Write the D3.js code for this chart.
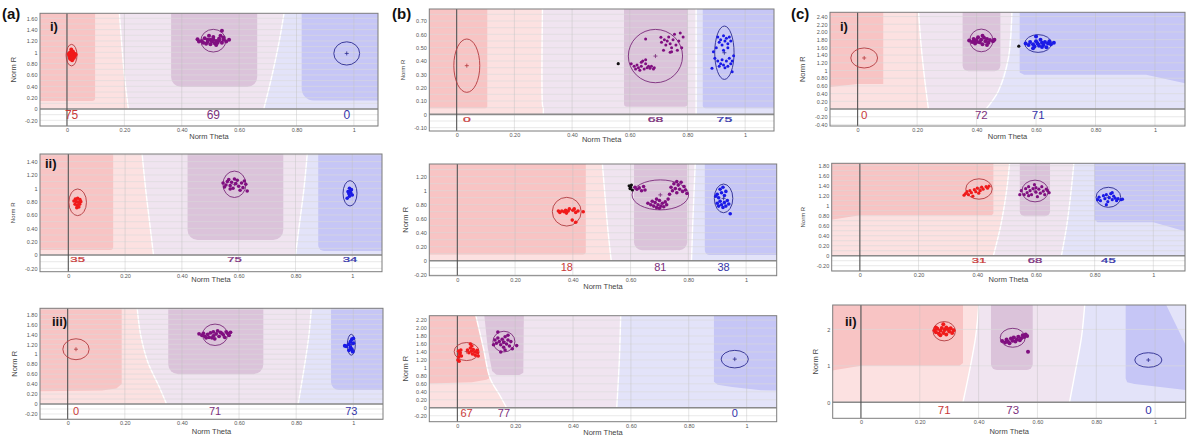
<!DOCTYPE html>
<html>
<head>
<meta charset="utf-8">
<script src="https://cdn.jsdelivr.net/npm/d3@7"></script>
<style>
  body { margin: 0; background: #fff; }
  svg text { font-family: "Liberation Sans", Arial, sans-serif; }
</style>
</head>
<body>
<svg id="fig" width="1200" height="443"></svg>
<script>
// ---------- shared axis values ----------
const xTicks = [0, 0.2, 0.4, 0.6, 0.8, 1];
const xTickLabels = ["0", "0.20", "0.40", "0.60", "0.80", "1"];
const classes = ["r", "p", "b"];

const yTicksA1 = [-0.2, 0, 0.2, 0.4, 0.6, 0.8, 1, 1.2, 1.4, 1.6];
const yTicksA2 = [-0.2, 0, 0.2, 0.4, 0.6, 0.8, 1, 1.2, 1.4];
const yTicksA3 = [-0.2, 0, 0.2, 0.4, 0.6, 0.8, 1, 1.2, 1.4, 1.6, 1.8];
const yTicksB1 = [-0.1, 0, 0.1, 0.2, 0.3, 0.4, 0.5, 0.6, 0.7];
const yTicksB2 = [-0.2, 0, 0.2, 0.4, 0.6, 0.8, 1, 1.2];
const yTicksB3 = [-0.2, 0, 0.2, 0.4, 0.6, 0.8, 1, 1.2, 1.4, 1.6, 1.8, 2, 2.2];
const yTicksC1 = [-0.4, -0.2, 0, 0.2, 0.4, 0.6, 0.8, 1, 1.2, 1.4, 1.6, 1.8, 2, 2.2, 2.4];
const yTicksC2 = [-0.2, 0, 0.2, 0.4, 0.6, 0.8, 1, 1.2, 1.4, 1.6, 1.8];
const yTicksC3 = [0, 1, 2];

// ---------- counts (red, purple, blue) ----------
const cntA1 = [75, 69, 0];
const cntA2 = [35, 75, 34];
const cntA3 = [0, 71, 73];
const cntB1 = [0, 68, 75];
const cntB2 = [18, 81, 38];
const cntB3 = [67, 77, 0];
const cntC1 = [0, 72, 71];
const cntC2 = [31, 68, 45];
const cntC3 = [71, 73, 0];

// ---------- cluster ellipses [cx, cy, rx, ry] ----------
const ellA1 = [[0.016, 0.95, 0.019, 0.19], [0.51, 1.205, 0.0435, 0.20], [0.975, 0.98, 0.045, 0.205]];
const ellA2 = [[0.033, 0.79, 0.031, 0.20], [0.585, 1.06, 0.0405, 0.198], [0.992, 0.925, 0.0246, 0.19]];
const ellA3 = [[0.029, 1.10, 0.046, 0.21], [0.516, 1.39, 0.044, 0.215], [0.993, 1.19, 0.014, 0.21]];
const ellB1 = [[0.035, 0.365, 0.045, 0.20], [0.689, 0.437, 0.094, 0.20], [0.928, 0.462, 0.0335, 0.20]];
const ellB2 = [[0.379, 0.70, 0.050, 0.205], [0.703, 0.94, 0.098, 0.214], [0.922, 0.89, 0.032, 0.205]];
const ellB3 = [[0.032, 1.41, 0.043, 0.226], [0.161, 1.66, 0.038, 0.26], [0.959, 1.22, 0.047, 0.22]];
const ellC1 = [[0.022, 1.325, 0.045, 0.26], [0.416, 1.78, 0.039, 0.294], [0.607, 1.70, 0.045, 0.23]];
const ellC2 = [[0.406, 1.334, 0.045, 0.204], [0.597, 1.294, 0.045, 0.217], [0.847, 1.168, 0.042, 0.20]];
const ellC3 = [[0.283, 1.95, 0.038, 0.265], [0.516, 1.77, 0.0425, 0.26], [0.977, 1.16, 0.046, 0.20]];

// ---------- cluster points [theta, r] ----------
const ptsA1r = [[0.010,0.99],[0.016,1.02],[0.022,0.98],[0.008,0.94],[0.014,0.93],[0.020,0.95],[0.026,0.93],[0.012,0.88],[0.018,0.86],[0.024,0.90],[0.006,0.97],[0.028,0.97],[0.015,1.05],[0.010,0.90],[0.021,1.01],[0.030,0.96],[0.016,0.91]];
const ptsA1p = [[0.455,1.23],[0.47,1.20],[0.48,1.25],[0.49,1.18],[0.50,1.22],[0.50,1.14],[0.51,1.27],[0.52,1.20],[0.52,1.13],[0.53,1.24],[0.54,1.17],[0.545,1.22],[0.555,1.19],[0.565,1.22],[0.485,1.15],[0.495,1.29],[0.515,1.16],[0.535,1.29],[0.475,1.17],[0.505,1.19],[0.525,1.17],[0.545,1.26],[0.54,1.38],[0.46,1.19],[0.49,1.22],[0.51,1.23],[0.53,1.21]];
const ptsA1b = [];

const ptsA2r = [[0.025,0.84],[0.033,0.85],[0.041,0.83],[0.028,0.80],[0.036,0.79],[0.044,0.80],[0.024,0.76],[0.032,0.74],[0.040,0.76],[0.030,0.71],[0.037,0.72],[0.020,0.81]];
const ptsA2p = [[0.545,1.08],[0.555,1.05],[0.56,1.10],[0.57,1.04],[0.575,1.09],[0.58,1.00],[0.59,1.07],[0.595,1.12],[0.60,1.03],[0.61,1.08],[0.615,1.01],[0.62,1.11],[0.625,1.06],[0.565,1.13],[0.585,1.14],[0.55,1.02],[0.605,0.97],[0.63,0.96],[0.57,0.99]];
const ptsA2b = [[0.99,1.0],[0.997,0.98],[0.985,0.95],[0.995,0.93],[1.0,0.90],[0.99,0.88],[0.982,0.85],[0.993,0.96],[0.988,0.92]];

const ptsA3r = [];
const ptsA3p = [[0.46,1.41],[0.47,1.38],[0.48,1.36],[0.49,1.40],[0.495,1.34],[0.50,1.43],[0.51,1.37],[0.515,1.31],[0.52,1.41],[0.53,1.36],[0.535,1.44],[0.545,1.39],[0.55,1.34],[0.56,1.42],[0.565,1.38],[0.57,1.44],[0.505,1.33],[0.485,1.33],[0.525,1.47],[0.54,1.42],[0.555,1.45],[0.475,1.42],[0.51,1.45]];
const ptsA3b = [[0.97,1.17],[0.975,1.16],[0.985,1.20],[0.99,1.25],[0.995,1.30],[0.995,1.10],[1.0,1.22],[0.99,1.14],[0.985,1.08],[1.0,1.32],[0.998,1.05]];

const ptsB1r = [];
const ptsB1p = [[0.605,0.38],[0.615,0.36],[0.62,0.34],[0.625,0.37],[0.63,0.35],[0.635,0.33],[0.64,0.36],[0.645,0.40],[0.65,0.34],[0.655,0.38],[0.66,0.35],[0.665,0.36],[0.67,0.345],[0.64,0.39],[0.655,0.41],[0.675,0.36],[0.685,0.35],
  [0.71,0.54],[0.72,0.56],[0.725,0.52],[0.73,0.55],[0.735,0.58],[0.74,0.53],[0.745,0.50],[0.75,0.56],[0.755,0.60],[0.76,0.52],[0.765,0.48],[0.77,0.55],[0.775,0.61],[0.78,0.50],[0.785,0.58],[0.745,0.47],
  [0.655,0.565],[0.708,0.578],[0.717,0.48],[0.682,0.34],[0.74,0.465]];
const ptsB1b = [[0.905,0.58],[0.915,0.56],[0.925,0.59],[0.93,0.55],[0.935,0.57],[0.94,0.53],[0.945,0.58],[0.92,0.52],[0.91,0.54],[0.95,0.55],[0.94,0.50],[0.925,0.48],[0.90,0.50],[0.89,0.47],
  [0.895,0.42],[0.905,0.40],[0.915,0.38],[0.92,0.41],[0.925,0.37],[0.935,0.40],[0.94,0.36],[0.945,0.42],[0.95,0.38],[0.955,0.40],[0.93,0.35],[0.91,0.36],[0.955,0.32],[0.885,0.345],[0.96,0.44]];
const blackB1 = [[0.56, 0.38]];

const ptsB2r = [[0.35,0.71],[0.355,0.69],[0.362,0.71],[0.37,0.70],[0.375,0.72],[0.378,0.68],[0.384,0.71],[0.40,0.72],[0.405,0.74],[0.41,0.69],[0.418,0.71],[0.436,0.70],[0.398,0.58],[0.41,0.55],[0.388,0.74]];
const ptsB2p = [[0.66,0.82],[0.67,0.80],[0.675,0.85],[0.68,0.78],[0.685,0.83],[0.69,0.76],[0.695,0.80],[0.70,0.86],[0.705,0.78],[0.71,0.82],[0.715,0.77],[0.72,0.84],[0.725,0.80],[0.73,0.88],[0.69,0.88],[0.70,0.75],
  [0.74,1.05],[0.745,1.00],[0.75,1.10],[0.755,1.03],[0.76,0.97],[0.765,1.08],[0.77,1.02],[0.775,1.12],[0.78,0.99],[0.785,1.06],[0.79,1.01],[0.76,1.13],[0.735,0.95],[0.795,0.96],
  [0.615,1.05],[0.622,1.02],[0.63,1.04],[0.638,1.00],[0.645,1.06],[0.65,1.01]];
const ptsB2b = [[0.895,0.92],[0.90,0.95],[0.905,0.90],[0.91,1.02],[0.915,0.97],[0.92,1.05],[0.925,0.93],[0.93,0.99],[0.91,0.85],[0.915,0.80],[0.92,0.76],[0.925,0.83],[0.93,0.78],[0.935,0.86],[0.94,0.81],[0.905,0.78],[0.945,0.67],[0.90,0.82]];
const blackB2 = [[0.595,1.07],[0.60,1.05],[0.598,1.03],[0.603,1.08],[0.606,1.01]];

const ptsB3r = [[0.002,1.20],[0.005,1.28],[0.008,1.35],[0.004,1.42],[0.010,1.38],[0.012,1.45],[0.006,1.17],[0.014,1.30],[0.035,1.45],[0.040,1.38],[0.045,1.50],[0.048,1.42],[0.052,1.35],[0.055,1.46],[0.060,1.40],[0.062,1.32],[0.068,1.44],[0.070,1.38],[0.045,1.60],[0.05,1.55],[0.072,1.30]];
const ptsB3p = [[0.13,1.70],[0.135,1.62],[0.14,1.75],[0.145,1.66],[0.15,1.58],[0.155,1.72],[0.16,1.64],[0.165,1.78],[0.17,1.60],[0.175,1.70],[0.18,1.55],[0.185,1.66],[0.19,1.48],[0.205,1.56],[0.14,1.90],[0.15,1.40],[0.165,1.45],[0.125,1.58],[0.16,1.52],[0.175,1.82]];
const ptsB3b = [];

const ptsC1r = [];
const ptsC1p = [[0.375,1.78],[0.385,1.74],[0.39,1.82],[0.395,1.70],[0.40,1.79],[0.405,1.86],[0.41,1.73],[0.415,1.80],[0.42,1.68],[0.425,1.85],[0.43,1.76],[0.435,1.82],[0.44,1.72],[0.445,1.79],[0.455,1.76],[0.46,1.80],[0.40,1.74],[0.42,1.90],[0.435,1.66],[0.39,1.77]];
const ptsC1b = [[0.565,1.70],[0.575,1.66],[0.58,1.74],[0.59,1.68],[0.595,1.62],[0.60,1.76],[0.605,1.70],[0.61,1.64],[0.615,1.80],[0.62,1.72],[0.625,1.66],[0.63,1.74],[0.635,1.60],[0.64,1.70],[0.65,1.68],[0.66,1.72],[0.60,1.88],[0.59,1.58],[0.62,1.61],[0.645,1.76]];
const blackC1 = [[0.542, 1.63]];

const ptsC2r = [[0.355,1.21],[0.36,1.24],[0.365,1.28],[0.37,1.22],[0.375,1.30],[0.38,1.26],[0.39,1.32],[0.395,1.28],[0.40,1.35],[0.41,1.30],[0.415,1.37],[0.42,1.33],[0.43,1.38],[0.435,1.35],[0.44,1.39],[0.385,1.19],[0.405,1.25]];
const ptsC2p = [[0.55,1.30],[0.56,1.22],[0.565,1.34],[0.57,1.26],[0.575,1.38],[0.58,1.30],[0.585,1.22],[0.59,1.34],[0.595,1.42],[0.60,1.27],[0.605,1.18],[0.61,1.33],[0.615,1.25],[0.62,1.38],[0.625,1.29],[0.63,1.22],[0.635,1.33],[0.64,1.30],[0.645,1.26],[0.575,1.20],[0.60,1.36],[0.545,1.22]];
const ptsC2b = [[0.81,1.12],[0.815,1.17],[0.82,1.10],[0.83,1.20],[0.835,1.14],[0.84,1.22],[0.845,1.08],[0.85,1.16],[0.855,1.24],[0.86,1.12],[0.865,1.19],[0.87,1.15],[0.875,1.10],[0.88,1.14],[0.89,1.12],[0.895,1.13],[0.84,1.02],[0.86,1.26]];

const ptsC3r = [[0.25,1.98],[0.255,1.92],[0.26,2.02],[0.265,1.88],[0.27,1.97],[0.275,2.04],[0.28,1.90],[0.285,1.99],[0.29,1.86],[0.295,2.01],[0.30,1.94],[0.305,2.03],[0.31,1.90],[0.315,1.98],[0.27,1.84],[0.29,2.05],[0.28,2.14],[0.255,2.05]];
const ptsC3p = [[0.48,1.68],[0.49,1.64],[0.495,1.72],[0.50,1.66],[0.51,1.75],[0.515,1.69],[0.52,1.78],[0.53,1.72],[0.535,1.80],[0.545,1.76],[0.55,1.84],[0.555,1.79],[0.56,1.86],[0.505,1.62],[0.525,1.67],[0.54,1.70],[0.565,1.82],[0.568,1.39]];
const ptsC3b = [];

// ---------- decision-region boundaries (top to bottom) ----------
const b1A1 = [[0.181,1.8],[0.19,1.2],[0.20,0.6],[0.214,0]];
const b2A1 = [[0.76,1.8],[0.74,1.2],[0.715,0.6],[0.686,0]];
const b1A2 = [[0.258,1.6],[0.272,1.0],[0.286,0.5],[0.30,0]];
const b2A2 = [[0.843,1.6],[0.83,1.0],[0.815,0.5],[0.80,0]];
const b1A3 = [[0.242,2.0],[0.255,1.4],[0.28,0.85],[0.32,0.35],[0.346,0]];
const b2A3 = [[0.854,2.0],[0.845,1.4],[0.83,0.8],[0.807,0]];
const b1B1 = [[0.298,0.9],[0.298,0.06],[0.30,0.05],[0.30,0]];
const b2B1 = [[0.83,0.9],[0.83,0]];
const b1B2 = [[0.50,1.5],[0.51,1.0],[0.52,0.5],[0.533,0]];
const b2B2 = [[0.825,1.5],[0.82,1.0],[0.815,0.5],[0.811,0]];
const b1B3 = [[0.061,2.4],[0.09,1.5],[0.113,0.74],[0.146,0.32],[0.17,0]];
const b2B3 = [[0.565,2.4],[0.56,1.2],[0.551,0]];
const b1C1 = [[0.204,2.6],[0.214,1.6],[0.225,0.8],[0.238,0]];
const b2C1 = [[0.519,2.6],[0.507,1.32],[0.473,0.46],[0.432,0]];
const b1C2 = [[0.511,1.9],[0.50,1.3],[0.48,0.6],[0.455,0]];
const b2C2 = [[0.73,1.9],[0.72,1.3],[0.705,0.6],[0.687,0]];
const b1C3 = [[0.402,2.8],[0.39,1.8],[0.37,0.9],[0.347,0]];
const b2C3 = [[0.762,2.8],[0.75,1.8],[0.73,0.9],[0.709,0]];

// ---------- darker class cores ----------
const darkA1 = [{c: "r", rect: [-0.3, 0.098, 0.14], rx: 3}, {c: "p", rect: [0.363, 0.663, 0.39], rx: 10}, {c: "b", rect: [0.818, 1.3, 0.15], rx: 12}];
const darkA2 = [{c: "r", rect: [-0.3, 0.158, 0.075], rx: 3}, {c: "p", rect: [0.42, 0.757, 0.225], rx: 10}, {c: "b", rect: [0.88, 1.3, 0.06], rx: 6}];
const darkA3 = [{c: "r", poly: [[-0.3,0.24],[0.12,0.27],[0.17,0.31],[0.189,0.4],[0.189,2.5],[-0.3,2.5]]}, {c: "p", rect: [0.352, 0.685, 0.60], rx: 10}, {c: "b", rect: [0.922, 1.3, 0.28], rx: 8}];
const darkB1 = [{c: "r", rect: [-0.3, 0.106, 0.045], rx: 2}, {c: "p", rect: [0.58, 0.80, 0.057], rx: 3}, {c: "b", rect: [0.853, 1.3, 0.045], rx: 3}];
const darkB2 = [{c: "r", rect: [-0.3, 0.445, 0.09], rx: 3}, {c: "p", rect: [0.612, 0.796, 0.15], rx: 8}, {c: "b", rect: [0.857, 1.3, 0.08], rx: 5}];
const darkB3 = [{c: "r", poly: [[-0.3,0.57],[0.05,0.64],[0.10,0.70],[0.112,0.74],[0.09,1.5],[0.061,2.4],[-0.3,2.4]]},
  {c: "p", poly: [[0.092,2.4],[0.105,1.5],[0.12,0.92],[0.135,0.83],[0.15,0.82],[0.215,0.82],[0.228,0.88],[0.23,2.4]]},
  {c: "b", poly: [[0.887,2.4],[0.887,0.65],[0.9,0.58],[0.95,0.52],[1.05,0.44],[1.3,0.4],[1.3,2.4]]}];
const darkC1 = [{c: "r", poly: [[-0.3,0.4],[0.0,0.65],[0.086,0.65],[0.086,2.6],[-0.3,2.6]]}, {c: "p", rect: [0.353, 0.48, 0.98], rx: 6},
  {c: "b", poly: [[0.545,2.6],[0.545,0.95],[0.56,0.89],[0.97,0.89],[1.3,0.34],[1.3,2.6]]}];
const darkC2 = [{c: "r", poly: [[-0.3,0.53],[0,0.81],[0.45,0.81],[0.455,0.85],[0.455,2],[-0.3,2]]}, {c: "p", rect: [0.545, 0.648, 0.79], rx: 5},
  {c: "b", poly: [[0.80,2],[0.80,0.72],[0.81,0.67],[1.0,0.67],[1.3,0.17],[1.3,2]]}];
const darkC3 = [{c: "r", poly: [[-0.3,0.6],[0,1.0],[0.335,1.0],[0.347,1.08],[0.347,2.8],[-0.3,2.8]]}, {c: "p", rect: [0.442, 0.584, 0.885], rx: 6},
  {c: "b", poly: [[0.90,2.8],[1.03,2.8],[1.104,1.57],[1.3,1.57],[1.3,0.3],[1.104,0.34],[0.93,0.5],[0.905,0.55],[0.90,0.65]]}];

// ---------- colours ----------
const lightFill = {r: "#fce1e1", p: "#f0e4f0", b: "#e3e3f9"};
const darkFill = {r: "#f8c4c4", p: "#dbc3da", b: "#c6c6f6"};
const pointCol = {r: "#f01a1a", p: "#800f80", b: "#1a1ae6"};
const ellCol = {r: "#b23a3e", p: "#7a2a7a", b: "#2a2a8e"};
const countCol = {r: "#c93a3a", p: "#7c307c", b: "#3434aa"};

function fmtY(v) { return (v === 0 || v === 1) ? String(v) : v.toFixed(2); }

const panels = [
  {id: "a1", box: [40, 13.3, 378, 126], xd: [-0.094, 1.084], yd: [-0.30, 1.688], yTicks: yTicksA1, grid: 0.1,
   b1: b1A1, b2: b2A1, dark: darkA1, ell: ellA1, pts: [ptsA1r, ptsA1p, ptsA1b], black: [], counts: cntA1,
   countY: -0.11, countSize: 12, wide: false, pr: 2.0, xtDy: 10.7, ytX: 13, roman: ["i)", 50, 31]},
  {id: "a2", box: [40, 154, 382, 271.7], xd: [-0.0996, 1.1046], yd: [-0.25, 1.514], yTicks: yTicksA2, grid: 0.1,
   b1: b1A2, b2: b2A2, dark: darkA2, ell: ellA2, pts: [ptsA2r, ptsA2p, ptsA2b], black: [], counts: cntA2,
   countY: -0.065, countSize: 7.5, wide: true, pr: 1.8, xtDy: 8, ytX: 13, roman: ["ii)", 45, 168]},
  {id: "a3", box: [40, 308.3, 383, 419.3], xd: [-0.097, 1.104], yd: [-0.307, 1.922], yTicks: yTicksA3, grid: 0.1,
   b1: b1A3, b2: b2A3, dark: darkA3, ell: ellA3, pts: [ptsA3r, ptsA3p, ptsA3b], black: [], counts: cntA3,
   countY: -0.135, countSize: 11, wide: false, pr: 1.9, xtDy: 11.7, ytX: 14, roman: ["iii)", 52, 326]},
  {id: "b1", box: [429.3, 9, 774, 131], xd: [-0.095, 1.10], yd: [-0.125, 0.79], yTicks: yTicksB1, grid: 0.05,
   b1: b1B1, b2: b2B1, dark: darkB1, ell: ellB1, pts: [ptsB1r, ptsB1p, ptsB1b], black: blackB1, counts: cntB1,
   countY: -0.035, countSize: 8, wide: true, pr: 1.5, xtDy: 8, ytX: 403, roman: null},
  {id: "b2", box: [429.3, 164, 776.7, 275.7], xd: [-0.097, 1.106], yd: [-0.214, 1.381], yTicks: yTicksB2, grid: 0.1,
   b1: b1B2, b2: b2B2, dark: darkB2, ell: ellB2, pts: [ptsB2r, ptsB2p, ptsB2b], black: blackB2, counts: cntB2,
   countY: -0.086, countSize: 11, wide: false, pr: 1.8, xtDy: 11, ytX: 405, roman: null},
  {id: "b3", box: [429.3, 315.7, 776.7, 421.7], xd: [-0.097, 1.104], yd: [-0.35, 2.31], yTicks: yTicksB3, grid: 0.2,
   b1: b1B3, b2: b2B3, dark: darkB3, ell: ellB3, pts: [ptsB3r, ptsB3p, ptsB3b], black: [], counts: cntB3,
   countY: -0.14, countSize: 11, wide: false, pr: 1.8, xtDy: 10.6, ytX: 405, roman: null},
  {id: "c1", box: [830, 12.3, 1185, 126], xd: [-0.093, 1.101], yd: [-0.44, 2.51], yTicks: yTicksC1, grid: 0.2,
   b1: b1C1, b2: b2C1, dark: darkC1, ell: ellC1, pts: [ptsC1r, ptsC1p, ptsC1b], black: blackC1, counts: cntC1,
   countY: -0.164, countSize: 11.5, wide: false, pr: 2.0, xtDy: 10, ytX: 802, roman: ["i)", 840, 31]},
  {id: "c2", box: [831.7, 163.3, 1185, 271], xd: [-0.096, 1.108], yd: [-0.306, 1.848], yTicks: yTicksC2, grid: 0.1,
   b1: b1C2, b2: b2C2, dark: darkC2, ell: ellC2, pts: [ptsC2r, ptsC2p, ptsC2b], black: [], counts: cntC2,
   countY: -0.086, countSize: 7.5, wide: true, pr: 1.6, xtDy: 8, ytX: 803, roman: null},
  {id: "c3", box: [832.7, 305, 1185.7, 418.3], xd: [-0.096, 1.104], yd: [-0.44, 2.67], yTicks: yTicksC3, grid: 1,
   b1: b1C3, b2: b2C3, dark: darkC3, ell: ellC3, pts: [ptsC3r, ptsC3p, ptsC3b], black: [], counts: cntC3,
   countY: -0.21, countSize: 11.5, wide: false, pr: 2.0, xtDy: 12.7, ytX: 815, roman: ["ii)", 845, 326], yFmt: d3.format("d")}
];

const svg = d3.select("#fig");
const defs = svg.append("defs");

function drawPanel(p) {
  const [L, T, R, B] = p.box;
  const x = d3.scaleLinear().domain(p.xd).range([L, R]);
  const y = d3.scaleLinear().domain(p.yd).range([B, T]);
  const line = d3.line().x(d => x(d[0])).y(d => y(d[1]));
  const g = svg.append("g");

  defs.append("clipPath").attr("id", "reg-" + p.id).append("rect")
    .attr("x", L).attr("y", T).attr("width", R - L).attr("height", y(0) - T);
  defs.append("clipPath").attr("id", "box-" + p.id).append("rect")
    .attr("x", L).attr("y", T).attr("width", R - L).attr("height", B - T);

  g.append("rect").attr("x", L).attr("y", T).attr("width", R - L).attr("height", B - T).attr("fill", "#fff");

  // light decision regions
  const reg = g.append("g").attr("clip-path", `url(#reg-${p.id})`);
  const xl = p.xd[0] - 0.3, xr = p.xd[1] + 0.3, yt = p.yd[1] + 0.5, yb = -0.2;
  const b1 = p.b1, b2 = p.b2;
  const e1 = b1[b1.length - 1], e2 = b2[b2.length - 1];
  const lightR = [[xl, yt], [b1[0][0], yt], ...b1, [e1[0], yb], [xl, yb]];
  const lightP = [[b1[0][0], yt], ...b1, [e1[0], yb], [e2[0], yb], ...b2.slice().reverse(), [b2[0][0], yt]];
  const lightB = [[b2[0][0], yt], ...b2, [e2[0], yb], [xr, yb], [xr, yt]];
  [[lightR, "r"], [lightP, "p"], [lightB, "b"]].forEach(([poly, c]) => {
    reg.append("path").attr("d", line(poly) + "Z").attr("fill", lightFill[c]);
  });

  // darker cores
  p.dark.forEach(d => {
    if (d.rect) {
      const [x0, x1, y0] = d.rect;
      reg.append("rect")
        .attr("x", x(x0)).attr("width", x(x1) - x(x0))
        .attr("y", T - 30).attr("height", y(y0) - T + 30)
        .attr("rx", d.rx).attr("fill", darkFill[d.c]);
    } else {
      reg.append("path").attr("d", line(d.poly) + "Z").attr("fill", darkFill[d.c]);
    }
  });

  // white boundary lines
  [b1, b2].forEach(b => {
    reg.append("path").attr("d", d3.line().x(d => x(d[0])).y(d => y(d[1])).curve(d3.curveCatmullRom)(b))
      .attr("fill", "none").attr("stroke", "#fff").attr("stroke-width", 1.4);
  });

  // grid
  const gridVals = d3.range(Math.ceil(p.yd[0] / p.grid - 1e-6), Math.floor(p.yd[1] / p.grid + 1e-6) + 1).map(i => i * p.grid);
  g.append("g").selectAll("line").data(gridVals).join("line")
    .attr("x1", L).attr("x2", R).attr("y1", d => y(d)).attr("y2", d => y(d))
    .attr("stroke", "#dadada").attr("stroke-width", 0.6);
  g.append("g").selectAll("line").data(xTicks).join("line")
    .attr("x1", d => x(d)).attr("x2", d => x(d)).attr("y1", T).attr("y2", B)
    .attr("stroke", "#bdbdbd").attr("stroke-opacity", 0.7).attr("stroke-width", 0.6);

  // zero axes
  g.append("line").attr("x1", L).attr("x2", R).attr("y1", y(0)).attr("y2", y(0))
    .attr("stroke", "#8a8a8a").attr("stroke-width", 1.6);
  g.append("line").attr("x1", x(0)).attr("x2", x(0)).attr("y1", T).attr("y2", B)
    .attr("stroke", "#4a4a4a").attr("stroke-width", 1);

  g.append("rect").attr("x", L).attr("y", T).attr("width", R - L).attr("height", B - T)
    .attr("fill", "none").attr("stroke", "#7d7d7d").attr("stroke-width", 1);

  // clusters
  const cl = g.append("g").attr("clip-path", `url(#box-${p.id})`);
  classes.forEach((c, i) => {
    const [cx, cy, rx, ry] = p.ell[i];
    cl.append("ellipse")
      .attr("cx", x(cx)).attr("cy", y(cy))
      .attr("rx", x(cx + rx) - x(cx)).attr("ry", y(cy) - y(cy + ry))
      .attr("fill", "none").attr("stroke", ellCol[c]).attr("stroke-width", 0.9);
    const px = x(cx), py = y(cy);
    cl.append("path").attr("d", `M${px - 2},${py}H${px + 2}M${px},${py - 2}V${py + 2}`)
      .attr("stroke", ellCol[c]).attr("stroke-width", 0.8);
    cl.append("g").selectAll("circle").data(p.pts[i]).join("circle")
      .attr("cx", d => x(d[0])).attr("cy", d => y(d[1])).attr("r", p.pr)
      .attr("fill", pointCol[c]);
  });
  cl.append("g").selectAll("circle").data(p.black).join("circle")
    .attr("cx", d => x(d[0])).attr("cy", d => y(d[1])).attr("r", 1.6).attr("fill", "#111");

  // counts in the strip below zero
  classes.forEach((c, i) => {
    g.append("text")
      .attr("transform", `translate(${x(p.ell[i][0])},${y(p.countY)})` + (p.wide ? " scale(1.75,1)" : ""))
      .attr("text-anchor", "middle").attr("dominant-baseline", "central")
      .attr("font-size", p.countSize).attr("fill", countCol[c])
      .attr("stroke", p.wide ? countCol[c] : "none").attr("stroke-width", 0.25)
      .text(p.counts[i]);
  });

  // axes
  g.append("g").attr("transform", `translate(${L},0)`)
    .call(d3.axisLeft(y).tickValues(p.yTicks).tickFormat(p.yFmt || fmtY).tickSize(0).tickPadding(2.5))
    .call(a => a.select(".domain").remove())
    .attr("font-family", null).attr("font-size", 5.5)
    .selectAll("text").attr("fill", "#555");
  g.append("g").attr("transform", `translate(0,${B})`)
    .call(d3.axisBottom(x).tickValues(xTicks).tickFormat((d, i) => xTickLabels[i]).tickSize(0).tickPadding(2))
    .call(a => a.select(".domain").remove())
    .attr("font-family", null).attr("font-size", 5.5)
    .selectAll("text").attr("fill", "#555");

  g.append("text").attr("x", (L + R) / 2).attr("y", B + p.xtDy)
    .attr("text-anchor", "middle").attr("dominant-baseline", "central")
    .attr("font-size", 7.5).attr("fill", "#444").text("Norm Theta");
  g.append("text").attr("transform", `translate(${p.ytX},${(T + B) / 2}) rotate(-90)`)
    .attr("text-anchor", "middle").attr("dominant-baseline", "central")
    .attr("font-size", p.wide ? 6 : 7.5).attr("fill", "#444").text("Norm R");

  if (p.roman) {
    g.append("text").attr("x", p.roman[1]).attr("y", p.roman[2])
      .attr("font-size", 13).attr("font-weight", "bold").attr("fill", "#111").text(p.roman[0]);
  }
}

panels.forEach(drawPanel);

// figure letters
[["(a)", 2], ["(b)", 392], ["(c)", 791]].forEach(([t, px]) => {
  svg.append("text").attr("x", px).attr("y", 19)
    .attr("font-size", 15).attr("font-weight", "bold").attr("fill", "#111").text(t);
});
</script>
</body>
</html>
